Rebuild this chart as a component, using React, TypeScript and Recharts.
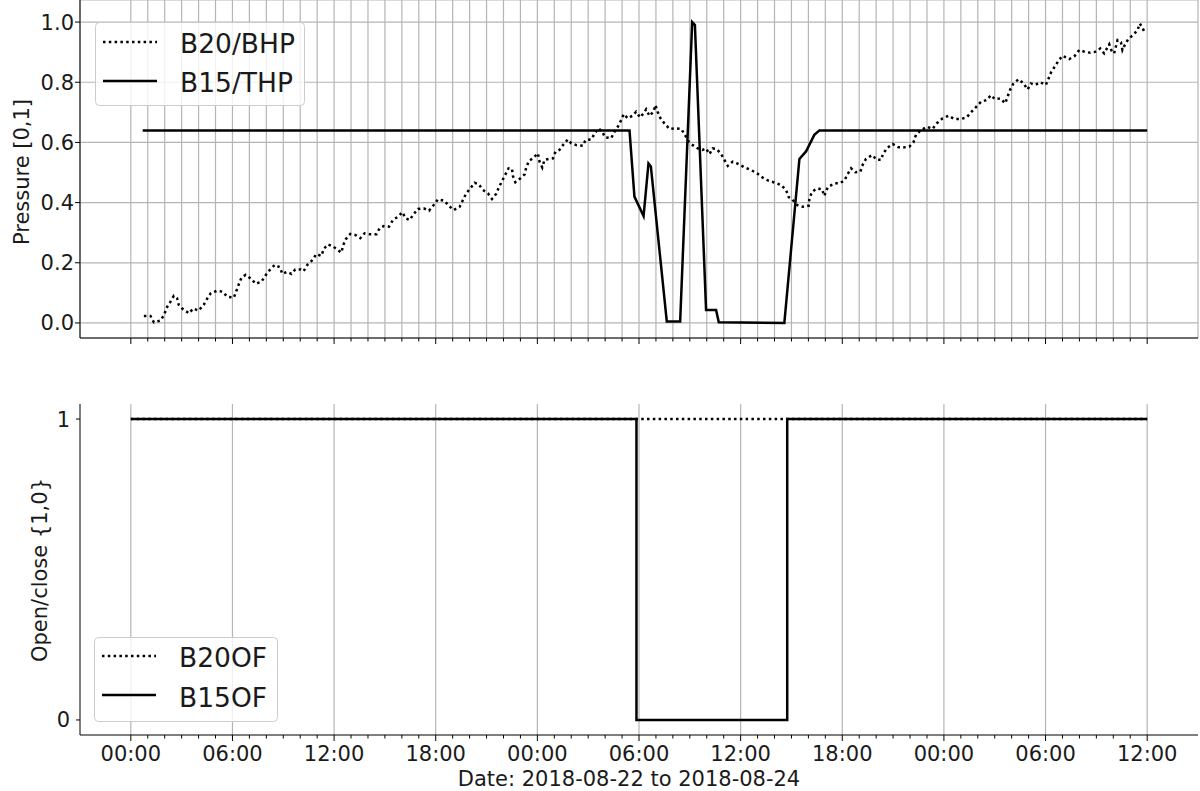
import React from "react";
import { LineChart, Line, XAxis, YAxis, CartesianGrid, Legend, ReferenceLine } from "recharts";

const FONT = "'DejaVu Sans', sans-serif";

// time axis in hours since 2018-08-22 00:00
const majorHours = [0, 6, 12, 18, 24, 30, 36, 42, 48, 54, 60];
const majorLabels = ["00:00", "06:00", "12:00", "18:00", "00:00", "06:00", "12:00", "18:00", "00:00", "06:00", "12:00"];
const hourTicks = Array.from({ length: 61 }, (_, i) => i);

const pressureTicks = [0, 0.2, 0.4, 0.6, 0.8, 1.0];
const stateTicks = [0, 1];

// B20/BHP (dotted)
const bhpHours = [
  0.77, 1.16, 1.36, 1.75, 1.97, 2.1, 2.3, 2.54, 2.73, 2.83, 3.09, 3.44, 3.68, 4.0, 4.3, 4.5, 4.72, 5.09, 5.41, 5.7,
  6.08, 6.23, 6.37, 6.53, 6.78, 7.12, 7.37, 7.71, 7.94, 8.2, 8.5, 8.79, 8.95, 9.22, 9.48, 9.71, 10.03, 10.2, 10.42, 10.72,
  10.95, 11.25, 11.39, 11.64, 11.98, 12.23, 12.43, 12.53, 12.68, 12.96, 13.27, 13.55, 13.8, 14.1, 14.5, 14.69, 14.94, 15.24, 15.47, 15.77,
  16.03, 16.22, 16.46, 16.7, 16.95, 17.29, 17.6, 17.88, 18.13, 18.52, 18.78, 19.06, 19.41, 19.61, 19.8, 20.04, 20.3, 20.53, 20.79, 21.08,
  21.32, 21.57, 21.73, 21.93, 22.1, 22.3, 22.5, 22.56, 22.7, 23.0, 23.25, 23.34, 23.5, 23.78, 24.03, 24.13, 24.29, 24.42, 24.68, 24.92,
  25.07, 25.3, 25.57, 25.8, 26.0, 26.3, 26.69, 26.84, 27.18, 27.37, 27.6, 27.83, 28.0, 28.36, 28.5, 28.75, 28.95, 29.1, 29.34, 29.6,
  29.83, 30.07, 30.27, 30.42, 30.62, 30.86, 30.97, 31.1, 31.27, 31.5, 31.8, 32.13, 32.49, 32.68, 32.94, 33.17, 33.47, 33.76, 33.96, 34.16,
  34.35, 34.59, 34.85, 35.04, 35.24, 35.53, 35.89, 36.22, 36.62, 36.97, 37.3, 37.66, 38.05, 38.39, 38.68, 38.84, 39.04, 39.33, 39.67, 40.02,
  40.06, 40.22, 40.49, 40.8, 40.94, 41.14, 41.53, 41.83, 42.12, 42.32, 42.52, 42.77, 43.07, 43.2, 43.4, 43.76, 44.05, 44.29, 44.42, 44.68,
  44.97, 45.31, 45.56, 45.96, 46.2, 46.35, 46.65, 47.0, 47.33, 47.57, 47.92, 48.28, 48.61, 49.0, 49.34, 49.6, 49.89, 50.19, 50.52, 50.78,
  51.01, 51.33, 51.62, 51.76, 51.9, 52.11, 52.41, 52.7, 52.94, 53.14, 53.39, 53.69, 54.02, 54.16, 54.32, 54.51, 54.75, 55.0, 55.4, 55.73,
  55.99, 56.32, 56.64, 56.93, 57.23, 57.46, 57.76, 57.92, 58.05, 58.25, 58.45, 58.54, 58.68, 58.88, 59.17, 59.43, 59.56, 59.72, 59.88,
];
const bhpValues = [
  0.023, 0.023, 0.002, 0.008, 0.027, 0.049, 0.067, 0.09, 0.082, 0.06, 0.045, 0.032, 0.048, 0.041, 0.06, 0.08, 0.099, 0.107, 0.104, 0.087,
  0.084, 0.106, 0.128, 0.15, 0.16, 0.146, 0.13, 0.137, 0.157, 0.176, 0.193, 0.185, 0.163, 0.17, 0.163, 0.178, 0.178, 0.172, 0.193, 0.209,
  0.229, 0.223, 0.246, 0.261, 0.253, 0.242, 0.234, 0.257, 0.278, 0.296, 0.292, 0.282, 0.298, 0.295, 0.295, 0.315, 0.322, 0.32, 0.342, 0.353,
  0.368, 0.348, 0.342, 0.362, 0.379, 0.381, 0.373, 0.392, 0.411, 0.406, 0.389, 0.375, 0.386, 0.409, 0.431, 0.447, 0.466, 0.461, 0.442, 0.431,
  0.412, 0.429, 0.451, 0.473, 0.492, 0.514, 0.512, 0.488, 0.468, 0.481, 0.494, 0.516, 0.538, 0.55, 0.564, 0.536, 0.517, 0.542, 0.545, 0.547,
  0.569, 0.575, 0.595, 0.61, 0.597, 0.591, 0.589, 0.608, 0.61, 0.628, 0.647, 0.636, 0.617, 0.614, 0.63, 0.652, 0.674, 0.694, 0.68, 0.688,
  0.702, 0.683, 0.697, 0.71, 0.688, 0.702, 0.724, 0.702, 0.68, 0.663, 0.645, 0.647, 0.645, 0.628, 0.602, 0.591, 0.58, 0.575, 0.58, 0.561,
  0.58, 0.578, 0.561, 0.542, 0.522, 0.536, 0.528, 0.517, 0.508, 0.497, 0.483, 0.472, 0.466, 0.458, 0.442, 0.418, 0.411, 0.392, 0.386, 0.39,
  0.414, 0.436, 0.447, 0.445, 0.422, 0.451, 0.464, 0.464, 0.473, 0.495, 0.514, 0.501, 0.503, 0.525, 0.545, 0.558, 0.542, 0.542, 0.564, 0.583,
  0.595, 0.584, 0.583, 0.586, 0.6, 0.625, 0.641, 0.652, 0.645, 0.663, 0.68, 0.689, 0.678, 0.678, 0.683, 0.7, 0.717, 0.735, 0.741, 0.757,
  0.744, 0.746, 0.73, 0.752, 0.774, 0.796, 0.81, 0.796, 0.776, 0.796, 0.791, 0.8, 0.791, 0.81, 0.832, 0.849, 0.87, 0.888, 0.877, 0.888,
  0.907, 0.901, 0.898, 0.901, 0.912, 0.896, 0.926, 0.901, 0.896, 0.94, 0.933, 0.907, 0.924, 0.943, 0.957, 0.973, 0.995, 0.982, 0.96,
];

// B15/THP (solid)
const thpHours = [0.7, 29.44, 29.73, 30.27, 30.56, 30.7, 31.64, 32.43, 33.14, 33.3, 33.96, 34.55, 34.71, 38.58, 39.47, 39.86, 40.35, 40.65, 60];
const thpValues = [0.64, 0.64, 0.42, 0.355, 0.53, 0.52, 0.005, 0.005, 1.0, 0.99, 0.043, 0.043, 0.002, 0.0, 0.545, 0.57, 0.625, 0.64, 0.64];

// open/close flags
const b20ofHours = [0, 60];
const b20ofValues = [1, 1];
const b15ofHours = [0, 29.85, 29.85, 38.75, 38.75, 60];
const b15ofValues = [1, 1, 0, 0, 1, 1];

const zip = (hours: number[], values: number[]) => hours.map((h, i) => ({ hour: h, value: values[i] }));

const DOTTED = "2.5 3.3";
const LW = 2.5;
const GRID = "#b5b5b5";
const TEXT = "#1a1a1a";

function hourTick(showLabels: boolean) {
  return (props: any) => {
    const { x, y, payload } = props;
    const idx = majorHours.indexOf(payload.value);
    const major = idx >= 0;
    return (
      <g>
        <line x1={x} x2={x} y1={y} y2={y + (major ? 6 : 3.5)} stroke="#000" strokeWidth={1} />
        {showLabels && major && (
          <text x={x} y={y + 26} textAnchor="middle" fontSize={21} fontFamily={FONT} fill={TEXT}>
            {majorLabels[idx]}
          </text>
        )}
      </g>
    );
  };
}

type Item = { name: string; dash?: string };

function LegendBox({ width, height, items, lineY, textY }: { width: number; height: number; items: Item[]; lineY: number[]; textY: number[] }) {
  return (
    <svg width={width} height={height} style={{ display: "block" }}>
      <rect x={0.5} y={0.5} width={width - 1} height={height - 1} rx={4} fill="rgba(255,255,255,0.8)" stroke="#cccccc" />
      {items.map((it, i) => (
        <g key={it.name}>
          <line x1={8} x2={62} y1={lineY[i]} y2={lineY[i]} stroke="#000" strokeWidth={LW} strokeDasharray={it.dash} />
          <text x={85} y={textY[i]} fontSize={26.5} fontFamily={FONT} fill={TEXT}>
            {it.name}
          </text>
        </g>
      ))}
    </svg>
  );
}

const yTitle = (text: string, x: number, y: number) => () =>
  (
    <text x={x} y={y} transform={`rotate(-90, ${x}, ${y})`} textAnchor="middle" dominantBaseline="central" fontSize={21} fontFamily={FONT} fill={TEXT}>
      {text}
    </text>
  );

export default function App() {
  const tickStyle = { fontSize: 21, fill: TEXT, fontFamily: FONT };
  return (
    <div style={{ position: "absolute", left: 0, top: 0, width: 1200, height: 791, background: "#fff", fontFamily: FONT }}>
      <div style={{ position: "absolute", left: 0, top: 0 }}>
        <LineChart width={1200} height={358} margin={{ top: 0, right: 2, left: 0, bottom: 0 }}>
          <CartesianGrid stroke={GRID} strokeWidth={1.2} />
          <XAxis
            dataKey="hour"
            type="number"
            domain={[-3, 63]}
            ticks={hourTicks}
            interval={0}
            allowDataOverflow
            tick={hourTick(false)}
            tickLine={false}
            tickSize={0}
            tickMargin={0}
            axisLine={{ stroke: "#000" }}
            height={20}
          />
          <YAxis
            type="number"
            domain={[-0.05, 1.0733]}
            ticks={pressureTicks}
            interval={0}
            allowDataOverflow
            tickFormatter={(v: number) => v.toFixed(1)}
            tick={tickStyle}
            tickLine={{ stroke: "#000" }}
            tickSize={5}
            tickMargin={1}
            axisLine={{ stroke: "#000" }}
            width={80}
            label={yTitle("Pressure [0,1]", 22, 172)}
          />
          <Line data={zip(bhpHours, bhpValues)} dataKey="value" name="B20/BHP" type="linear" stroke="#000" strokeWidth={LW} strokeDasharray={DOTTED} dot={false} activeDot={false} isAnimationActive={false} />
          <Line data={zip(thpHours, thpValues)} dataKey="value" name="B15/THP" type="linear" stroke="#000" strokeWidth={LW} dot={false} activeDot={false} isAnimationActive={false} />
          <Legend
            layout="vertical"
            align="center"
            verticalAlign="middle"
            wrapperStyle={{ left: 95, top: 22, width: 210, height: 84 }}
            content={() => (
              <LegendBox width={210} height={84} items={[{ name: "B20/BHP", dash: DOTTED }, { name: "B15/THP" }]} lineY={[20, 59]} textY={[31, 70]} />
            )}
          />
        </LineChart>
      </div>
      <div style={{ position: "absolute", left: 0, top: 380 }}>
        <LineChart width={1200} height={411} margin={{ top: 24, right: 2, left: 0, bottom: 0 }}>
          {majorHours.map((h) => (
            <ReferenceLine key={h} x={h} stroke={GRID} strokeWidth={1.2} />
          ))}
          <XAxis
            dataKey="hour"
            type="number"
            domain={[-3, 63]}
            ticks={hourTicks}
            interval={0}
            allowDataOverflow
            tick={hourTick(true)}
            tickLine={false}
            tickSize={0}
            tickMargin={0}
            axisLine={{ stroke: "#000" }}
            height={56}
            label={() => (
              <text x={629} y={406} textAnchor="middle" fontSize={21} fontFamily={FONT} fill={TEXT}>
                Date: 2018-08-22 to 2018-08-24
              </text>
            )}
          />
          <YAxis
            type="number"
            domain={[-0.05, 1.05]}
            ticks={stateTicks}
            interval={0}
            allowDataOverflow
            tick={tickStyle}
            tickLine={{ stroke: "#000" }}
            tickSize={4}
            tickMargin={6}
            axisLine={{ stroke: "#000" }}
            width={80}
            label={yTitle("Open/close {1,0}", 40, 190)}
          />
          <Line data={zip(b20ofHours, b20ofValues)} dataKey="value" name="B20OF" type="linear" stroke="#000" strokeWidth={LW} strokeDasharray={DOTTED} dot={false} activeDot={false} isAnimationActive={false} />
          <Line data={zip(b15ofHours, b15ofValues)} dataKey="value" name="B15OF" type="linear" stroke="#000" strokeWidth={LW} dot={false} activeDot={false} isAnimationActive={false} />
          <Legend
            layout="vertical"
            align="center"
            verticalAlign="middle"
            wrapperStyle={{ left: 94, top: 257, width: 184, height: 85 }}
            content={() => (
              <LegendBox width={184} height={85} items={[{ name: "B20OF", dash: DOTTED }, { name: "B15OF" }]} lineY={[19, 58]} textY={[30, 70]} />
            )}
          />
        </LineChart>
      </div>
    </div>
  );
}
